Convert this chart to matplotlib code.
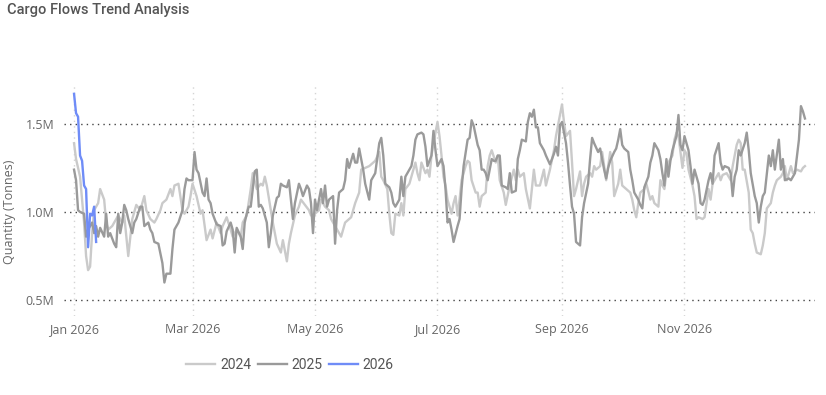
import numpy as np
import matplotlib
matplotlib.use("Agg")
import matplotlib.pyplot as plt
import matplotlib.dates as mdates
from matplotlib.ticker import FuncFormatter

# day offsets from 1 Jan, values in millions of tonnes
days_2024 = [0, 1, 3, 5, 6, 7, 8, 9, 10, 12, 13, 15, 16, 17, 19, 20, 22, 24, 25, 27, 29, 31, 33, 35, 36, 38,
             40, 41, 43, 44, 46, 48, 49, 50, 52, 54, 55, 57, 58, 59, 61, 63, 64, 66, 68, 69, 71, 73, 74, 76,
             78, 79, 81, 83, 84, 86, 88, 89, 91, 93, 94, 95, 96, 98, 99, 101, 103, 104, 106, 107, 108, 110,
             112, 113, 115, 117, 118, 120, 122, 123, 125, 127, 128, 130, 132, 133, 135, 137, 138, 140, 142,
             143, 145, 147, 148, 150, 152, 153, 154, 156, 157, 158, 159, 160, 162, 163, 164, 165, 167, 168,
             170, 171, 172, 173, 175, 176, 177, 178, 180, 181, 182, 183, 184, 185, 186, 188, 189, 190, 191,
             192, 193, 195, 196, 197, 198, 200, 201, 202, 203, 205, 206, 207, 208, 210, 211, 212, 214, 215,
             217, 219, 220, 221, 222, 224, 225, 227, 228, 229, 230, 232, 234, 235, 237, 239, 240, 242, 243,
             244, 245, 247, 248, 249, 250, 252, 253, 254, 255, 257, 258, 259, 260, 262, 263, 264, 265, 267,
             268, 269, 271, 272, 273, 275, 277, 278, 279, 280, 281, 282, 284, 285, 287, 288, 289, 291, 292,
             293, 294, 295, 296, 298, 299, 300, 301, 303, 304, 305, 306, 308, 309, 310, 311, 313, 314, 315,
             316, 317, 318, 320, 321, 322, 323, 325, 326, 327, 328, 330, 331, 332, 333, 334, 336, 337, 338,
             339, 340, 342, 343, 344, 345, 347, 348, 349, 350, 352, 353, 354, 355, 357, 358, 359, 360, 362,
             363, 364]
vals_2024 = [1.39, 1.30, 1.20, 0.94, 0.75, 0.67, 0.69, 0.88, 1.01, 1.05, 1.13, 1.07, 0.94, 0.90, 0.92, 0.94,
             0.98, 0.94, 0.98, 0.75, 0.96, 1.04, 1.01, 1.09, 1.01, 0.96, 0.94, 0.96, 1.01, 1.05, 1.07, 1.13,
             1.09, 1.15, 1.16, 1.01, 0.99, 1.03, 1.09, 1.16, 1.09, 0.99, 1.01, 0.84, 0.90, 0.85, 0.94, 0.88,
             0.92, 0.97, 0.90, 0.86, 0.90, 0.86, 0.94, 0.98, 1.13, 1.22, 1.13, 1.16, 1.15, 1.20, 1.15, 1.01,
             0.94, 0.82, 0.77, 0.84, 0.72, 0.82, 0.88, 0.98, 1.03, 1.07, 1.04, 1.01, 0.98, 0.99, 1.01, 1.07,
             1.03, 1.01, 0.96, 0.92, 0.88, 0.86, 0.94, 0.96, 0.97, 1.05, 1.11, 1.24, 1.25, 1.26, 1.27, 1.29,
             1.34, 1.20, 1.18, 1.13, 0.99, 0.88, 0.87, 0.99, 0.98, 1.05, 0.98, 1.13, 1.16, 1.20, 1.28, 1.22,
             1.18, 1.28, 1.22, 1.24, 1.20, 1.32, 1.45, 1.51, 1.43, 1.32, 1.20, 1.15, 1.07, 0.99, 1.05, 1.09,
             0.98, 1.07, 1.18, 1.26, 1.29, 1.28, 1.18, 1.11, 1.11, 1.03, 1.09, 1.11, 1.26, 1.32, 1.35, 1.28,
             1.32, 1.18, 1.11, 1.04, 1.15, 1.24, 1.18, 1.24, 1.20, 1.22, 1.13, 1.02, 1.13, 1.24, 1.15, 1.15,
             1.24, 1.15, 1.24, 1.35, 1.43, 1.55, 1.61, 1.51, 1.43, 1.46, 1.28, 1.09, 1.13, 1.23, 1.09, 1.16,
             1.20, 1.22, 1.20, 1.26, 1.24, 1.26, 1.34, 1.26, 1.18, 1.34, 1.28, 1.09, 1.16, 1.24, 1.15, 1.13,
             1.11, 1.07, 1.01, 0.97, 1.05, 1.11, 1.13, 1.16, 1.07, 1.09, 1.05, 1.03, 1.18, 1.15, 1.13, 1.22,
             1.28, 1.32, 1.41, 1.45, 1.43, 1.25, 1.35, 1.33, 1.24, 1.15, 1.09, 0.96, 0.97, 0.96, 0.97, 1.05,
             1.13, 1.07, 1.16, 1.20, 1.22, 1.18, 1.21, 1.22, 1.20, 1.18, 1.26, 1.38, 1.41, 1.39, 1.24, 1.24,
             1.11, 0.90, 0.88, 0.82, 0.77, 0.76, 0.81, 0.88, 1.02, 1.05, 1.11, 1.15, 1.18, 1.20, 1.22, 1.26,
             1.18, 1.26, 1.22, 1.23, 1.24, 1.23, 1.25, 1.26]

days_2025 = [0, 1, 2, 3, 5, 6, 7, 9, 10, 11, 12, 13, 15, 16, 17, 18, 20, 21, 22, 23, 24, 25, 26, 27, 29, 30,
             31, 33, 34, 35, 37, 38, 39, 40, 42, 44, 45, 46, 48, 49, 50, 52, 54, 55, 56, 57, 59, 60, 61, 62,
             64, 65, 66, 67, 68, 69, 71, 73, 74, 75, 76, 78, 79, 80, 81, 83, 84, 85, 86, 87, 88, 90, 91, 92,
             93, 94, 96, 97, 98, 99, 101, 102, 103, 104, 106, 107, 108, 109, 110, 112, 113, 114, 116, 117,
             118, 119, 120, 121, 123, 124, 125, 126, 127, 129, 130, 131, 132, 134, 135, 136, 137, 139, 140,
             141, 142, 144, 145, 147, 148, 149, 150, 152, 153, 154, 155, 157, 158, 159, 160, 161, 162, 163,
             164, 165, 166, 168, 169, 170, 171, 173, 174, 175, 176, 178, 179, 180, 181, 183, 184, 185, 186,
             187, 188, 189, 191, 192, 193, 194, 196, 197, 198, 199, 201, 202, 203, 204, 205, 206, 208, 209,
             210, 211, 212, 213, 215, 216, 217, 218, 220, 221, 222, 223, 225, 226, 227, 228, 229, 230, 231,
             232, 234, 235, 237, 238, 239, 240, 241, 242, 243, 245, 246, 247, 248, 249, 250, 251, 252, 253,
             254, 256, 257, 258, 259, 261, 262, 263, 264, 265, 266, 267, 269, 270, 271, 272, 273, 274, 276,
             277, 278, 279, 281, 282, 283, 284, 286, 287, 288, 289, 291, 292, 293, 294, 295, 296, 297, 298,
             300, 301, 302, 303, 304, 306, 307, 308, 309, 311, 312, 313, 314, 316, 317, 318, 319, 321, 322,
             323, 324, 326, 327, 328, 329, 330, 331, 332, 334, 335, 336, 337, 339, 340, 341, 342, 343, 344,
             346, 347, 348, 349, 351, 352, 353, 354, 356, 357, 358, 359, 361, 362, 363, 364]
vals_2025 = [1.24, 1.18, 1.01, 1.00, 0.99, 0.86, 0.90, 0.94, 0.88, 0.92, 0.86, 0.91, 0.86, 0.99, 0.86, 0.88,
             0.82, 0.80, 0.99, 0.88, 0.94, 1.04, 1.01, 0.96, 0.88, 0.94, 0.96, 1.03, 1.03, 0.92, 0.94, 0.90,
             0.88, 0.83, 0.82, 0.71, 0.60, 0.65, 0.65, 0.79, 0.90, 0.94, 1.01, 1.13, 1.19, 1.18, 1.18, 1.34,
             1.24, 1.22, 1.11, 1.09, 1.19, 1.07, 1.05, 0.99, 0.93, 0.92, 0.81, 0.82, 0.89, 0.94, 0.90, 0.77,
             0.91, 0.86, 0.79, 0.94, 0.99, 1.03, 1.03, 1.23, 1.24, 1.03, 1.04, 1.02, 0.94, 0.80, 0.88, 0.98,
             1.08, 1.09, 1.16, 1.15, 1.14, 1.18, 1.07, 0.96, 1.05, 1.16, 1.13, 1.09, 1.15, 1.13, 1.05, 0.88,
             1.07, 1.01, 1.13, 1.05, 1.15, 1.03, 1.07, 1.09, 0.82, 1.01, 1.11, 1.13, 1.18, 1.30, 1.25, 1.33,
             1.28, 1.28, 1.36, 1.24, 1.16, 1.07, 1.18, 1.20, 1.22, 1.39, 1.42, 1.32, 1.16, 1.14, 1.11, 1.05,
             1.03, 1.05, 1.07, 1.20, 1.09, 1.20, 1.22, 1.26, 1.32, 1.41, 1.44, 1.45, 1.44, 1.37, 1.26, 1.32,
             1.46, 1.35, 1.26, 1.30, 1.26, 1.13, 0.94, 0.96, 0.90, 0.83, 0.92, 0.96, 1.13, 1.26, 1.41, 1.42,
             1.52, 1.49, 1.38, 1.35, 1.24, 1.24, 1.22, 1.18, 1.30, 1.29, 1.29, 1.32, 1.32, 1.15, 1.14, 1.13,
             1.22, 1.11, 1.12, 1.30, 1.35, 1.41, 1.40, 1.51, 1.56, 1.54, 1.58, 1.48, 1.48, 1.39, 1.35, 1.32,
             1.27, 1.30, 1.33, 1.37, 1.32, 1.49, 1.51, 1.39, 1.28, 1.15, 1.03, 0.99, 0.83, 0.82, 0.81, 0.97,
             1.05, 1.16, 1.30, 1.42, 1.39, 1.34, 1.36, 1.30, 1.24, 1.19, 1.25, 1.29, 1.34, 1.36, 1.41, 1.47,
             1.38, 1.36, 1.34, 1.24, 1.18, 1.11, 1.07, 1.04, 1.02, 1.14, 1.20, 1.28, 1.32, 1.39, 1.35, 1.30,
             1.22, 1.15, 1.30, 1.20, 1.29, 1.35, 1.43, 1.55, 1.38, 1.35, 1.43, 1.35, 1.26, 1.16, 1.24, 1.16,
             1.05, 1.04, 1.07, 1.18, 1.22, 1.16, 1.32, 1.39, 1.28, 1.24, 1.26, 1.25, 1.22, 1.09, 1.20, 1.24,
             1.35, 1.32, 1.39, 1.45, 1.35, 1.22, 1.09, 1.05, 0.94, 1.03, 1.09, 1.11, 1.32, 1.26, 1.35, 1.24,
             1.41, 1.24, 1.30, 1.18, 1.19, 1.18, 1.20, 1.22, 1.41, 1.60, 1.57, 1.53]

days_2026 = [0, 1, 2, 3, 4, 5, 6, 7, 8, 9, 10, 11]
vals_2026 = [1.67, 1.56, 1.54, 1.32, 1.29, 1.15, 1.13, 0.80, 0.99, 0.98, 1.03, 0.83]

series = [("2024", days_2024, vals_2024, "#cacaca"),
          ("2025", days_2025, vals_2025, "#9a9a9a"),
          ("2026", days_2026, vals_2026, "#6f8cf7")]

start = np.datetime64("2026-01-01")
month_ticks = ["2026-01-01", "2026-03-01", "2026-05-01", "2026-07-01", "2026-09-01", "2026-11-01"]
y_ticks = [0.5e6, 1.0e6, 1.5e6]

fig = plt.figure(figsize=(8.26, 3.95), dpi=100)
ax = fig.add_axes([64 / 826, 1 - 316 / 395, 751 / 826, 231 / 395])

for name, d, v, c in series:
    x = start + np.array(d).astype("timedelta64[D]")
    ax.plot(x, np.array(v) * 1e6, color=c, lw=1.7, label=name, solid_joinstyle="round")

ax.set_xlim(start - np.timedelta64(5, "D"), start + np.timedelta64(369, "D"))
ax.set_ylim(0.41e6, 1.72e6)

ax.set_xticks([np.datetime64(m) for m in month_ticks])
ax.xaxis.set_major_formatter(mdates.DateFormatter("%b %Y"))
ax.set_yticks(y_ticks)
ax.yaxis.set_major_formatter(FuncFormatter(lambda v, p: f"{v / 1e6:.1f}M"))

for s in ax.spines.values():
    s.set_visible(False)
ax.tick_params(length=0, colors="#666666", labelsize=9)
ax.tick_params(axis="y", pad=7)
ax.tick_params(axis="x", pad=5)
for lab in ax.get_xticklabels() + ax.get_yticklabels():
    lab.set_fontfamily("Open Sans")

ax.grid(axis="y", color="#444444", linestyle=(0, (1, 3)), lw=1)
ax.grid(axis="x", color="#d4d4d4", linestyle=(0, (1, 3)), lw=1)
ax.set_axisbelow(True)

fig.text(7 / 826, 1 - 10 / 395, "Cargo Flows Trend Analysis", fontsize=10.5, color="#555555",
         fontfamily="Roboto", fontweight="medium", va="center", ha="left")
fig.text(10 / 826, 1 - 212 / 395, "Quantity (Tonnes)", rotation=90, fontsize=9, color="#666666",
         fontfamily="Open Sans", va="center", ha="center")

fig.legend(loc="center", bbox_to_anchor=(290 / 826, 1 - 365 / 395), ncol=3, frameon=False,
           handlelength=2.1, handletextpad=0.35, columnspacing=0.45,
           prop={"family": "Roboto", "size": 10}, labelcolor="#555555")

fig.savefig("out.png", dpi=100)
